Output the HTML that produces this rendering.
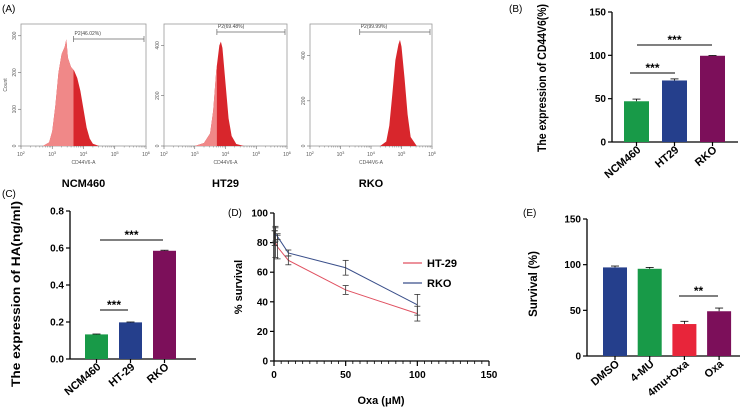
<!DOCTYPE html>
<html><head><meta charset="utf-8"><style>
body{margin:0;background:#fff}
svg{display:block;font-family:"Liberation Sans",Arial,sans-serif}
</style></head><body>
<svg id="fig" width="745" height="416" viewBox="0 0 745 416"></svg>
<script>
// ---- data ----
const histLogs=[2.7,2.9,3.0,3.1,3.2,3.3,3.4,3.45,3.5,3.6,3.7,3.8,3.9,4.0,4.1,4.2,4.3,4.5];
const hist1Counts=[0,10,40,110,200,250,270,290,240,215,205,185,150,100,50,20,6,0];
const hist2Logs=[3.0,3.3,3.5,3.6,3.7,3.8,3.85,3.9,4.0,4.1,4.2,4.35,4.6];
const hist2Counts=[0,12,50,140,300,400,415,390,250,110,40,8,0];
const hist3Logs=[4.3,4.5,4.6,4.7,4.8,4.9,4.95,5.0,5.1,5.2,5.3,5.5];
const hist3Counts=[0,20,90,230,380,450,470,440,300,140,40,0];
const flowGates=[3.68,3.72,3.63];
const flowPct=["P2(46.02%)","P2(69.48%)","P2(99.99%)"];
const flowNames=["NCM460","HT29","RKO"];
const bCats=["NCM460","HT29","RKO"];
const bVals=[47,71,99.5];
const bErr=[2.5,1.8,0.3];
const bTicks=[0,50,100,150];
const cCats=["NCM460","HT-29","RKO"];
const cVals=[0.133,0.198,0.585];
const cErr=[0.002,0.002,0.003];
const cTicks=[0,0.2,0.4,0.6,0.8];
const dX=[0.5,1,2.5,10,50,100];
const dHT=[83,80,77,68,48,32];
const dHTerr=[5,10,8,3,3,5];
const dRKO=[84,86,84,73,63,38];
const dRKOerr=[4,5,2,2,5,7];
const dXTicks=[0,50,100,150];
const dYTicks=[0,20,40,60,80,100];
const eCats=["DMSO","4-MU","4mu+Oxa","Oxa"];
const eVals=[97,95.5,35,49];
const eErr=[1.5,1.5,3,3.5];
const eTicks=[0,50,100,150];

const S=document.getElementById('fig');
const NS='http://www.w3.org/2000/svg';
function mk(tag,at,txt){const e=document.createElementNS(NS,tag);for(const k in at)e.setAttribute(k,at[k]);if(txt!==undefined)e.textContent=txt;S.appendChild(e);return e;}
function line(x1,y1,x2,y2,c,w,name){const e=mk('line',{x1,y1,x2,y2,stroke:c,'stroke-width':w});

return e;}
function text(x,y,t,at,name){const e=mk('text',Object.assign({x,y},at),t);

return e;}

// panel labels
text(2,12,"(A)",{'font-size':10},'panel-label-a');
text(509,12,"(B)",{'font-size':10},'panel-label-b');
text(2,197,"(C)",{'font-size':10},'panel-label-c');
text(228,216,"(D)",{'font-size':10},'panel-label-d');
text(523,216,"(E)",{'font-size':10},'panel-label-e');

// ---- flow histograms ----
const boxes=[{x0:21,x1:146,ymax:332,ticks:[0,100,200,300],logs:histLogs,counts:hist1Counts},
 {x0:164,x1:287,ymax:485,ticks:[0,200,400],logs:hist2Logs,counts:hist2Counts},
 {x0:310,x1:432,ymax:540,ticks:[0,200,400],logs:hist3Logs,counts:hist3Counts}];
const fy0=146,fy1=24;
boxes.forEach((b,i)=>{
 const xs=l=>b.x0+(l-2)/4*(b.x1-b.x0);
 const ys=v=>fy0-v/b.ymax*(fy0-fy1);
 const r=mk('rect',{x:b.x0,y:fy1,width:b.x1-b.x0,height:fy0-fy1,fill:'none',stroke:'#999','stroke-width':0.8});
 
 
 const g=xs(flowGates[i]);
 const pts=b.logs.map((l,k)=>xs(l)+','+ys(b.counts[k])).join(' ');
 const cid='clip'+i;
 const cp=mk('clipPath',{id:cid});
 const cr=document.createElementNS(NS,'rect');cr.setAttribute('x',b.x0);cr.setAttribute('y',0);cr.setAttribute('width',g-b.x0);cr.setAttribute('height',200);cp.appendChild(cr);
 const p1=mk('polygon',{points:pts,fill:'#d8262c'});
 
 
 const p2=mk('polygon',{points:pts,fill:'#f08888','clip-path':'url(#'+cid+')'});
 
 
 b.ticks.forEach(t=>{const y=ys(t);line(b.x0-3,y,b.x0,y,'#666',0.6,'y-tick');
  text(b.x0-5,y,String(t),{'font-size':5,fill:'#555','text-anchor':'middle',transform:`rotate(-90 ${b.x0-5} ${y})`},'y-tick-label');});
 for(let d=2;d<=6;d++){const x=xs(d);line(x,fy0,x,fy0+3,'#666',0.6,'x-tick');
  const t=text(x,fy0+10,'10',{'font-size':5,fill:'#555','text-anchor':'middle'},'x-tick-label');
  const ts=document.createElementNS(NS,'tspan');ts.setAttribute('dy',-2);ts.setAttribute('font-size',4);ts.textContent=d;t.appendChild(ts);
  if(d<6)for(let m=2;m<10;m++){const xm=xs(d+Math.log10(m));line(xm,fy0,xm,fy0+1.5,'#666',0.4,'minor-tick');}}
 text((b.x0+b.x1)/2,fy0+18,'CD44V6-A',{'font-size':5,fill:'#555','text-anchor':'middle'},'x-axis-title');
 if(i===0)text(7,85,'Count',{'font-size':5,fill:'#555','text-anchor':'middle',transform:'rotate(-90 7 85)'},'y-axis-title');
 const gy=i===0?39:32;
 line(g,gy,b.x1-2,gy,'#666',0.7,'gate-line');line(g,gy-3,g,gy+3,'#666',0.7,'gate-end');line(b.x1-2,gy-3,b.x1-2,gy+3,'#666',0.7,'gate-end');
 text(g+1,gy-4,flowPct[i],{'font-size':5,fill:'#444'},'gate-label');
 text((b.x0+b.x1)/2,187,flowNames[i],{'font-size':11,'font-weight':'bold','text-anchor':'middle'},'sample-name');
});

// ---- bar chart helper ----
function barChart(o){
 const ys=v=>o.yb-(v-0)/(o.tmax)*(o.yb-o.yt);
 line(o.ax,o.yt,o.ax,o.yb,'#000',1.3,'y-axis');
 line(o.ax,o.yb,o.xe,o.yb,'#000',1.3,'x-axis');
 o.ticks.forEach(t=>{const y=ys(t);line(o.ax-4,y,o.ax,y,'#000',1.2,'y-tick');
  text(o.ax-6,y+3.5,o.fmt(t),{'font-size':o.fs,'font-weight':'bold','text-anchor':'end'},'y-tick-label');});
 o.vals.forEach((v,i)=>{
  const cx=o.x0+i*o.step, x=cx-o.bw/2;
  const r=mk('rect',{x,y:ys(v),width:o.bw,height:o.yb-ys(v),fill:o.colors[i]});
  
  
  const ye=ys(v+o.err[i]);line(cx,ys(v),cx,ye,'#000',0.8,'error-bar');line(cx-4,ye,cx+4,ye,'#000',0.8,'error-cap');
  line(cx,o.yb,cx,o.yb+4,'#000',1.2,'x-tick');
  const ly=o.yb+9;
  text(cx+5,ly,o.cats[i],{'font-size':o.fs+1,'font-weight':'bold','text-anchor':'end',transform:`rotate(-40 ${cx+5} ${ly})`},'x-tick-label');
 });
 const at={'font-size':o.tfs,'font-weight':'bold','text-anchor':'middle',transform:`rotate(-90 ${o.lx} ${o.ly})`};
 if(o.tl){at.textLength=o.tl;at.lengthAdjust='spacingAndGlyphs';}
 text(o.lx,o.ly,o.title,at,'y-axis-title');
 return ys;
}
function sig(x1,x2,y,t,name){line(x1,y,x2,y,'#000',1,name+'-line');text((x1+x2)/2,y-1,t,{'font-size':12,'font-weight':'bold','text-anchor':'middle'},name+'-stars');}

// B
barChart({ax:612,yt:12,yb:142,xe:738,tmax:150,ticks:bTicks,fmt:t=>String(t),vals:bVals,err:bErr,cats:bCats,x0:636.5,step:38,bw:25,
 colors:['#189a48','#253f8c','#7c0f5a'],fs:10,tfs:11.5,lx:546,ly:78,tl:148,title:'The expression of CD44V6(%)'});
sig(637,712,45,'***','sig-b-top');sig(630,675,73,'***','sig-b-low');
// C
barChart({ax:70,yt:211,yb:359,xe:196,tmax:0.8,ticks:cTicks,fmt:t=>t.toFixed(1),vals:cVals,err:cErr,cats:cCats,x0:96.5,step:34,bw:23,
 colors:['#189a48','#253f8c','#7c0f5a'],fs:10,tfs:11.5,lx:20,ly:294,tl:186,title:'The expression of HA(ng/ml)'});
sig(100,163,240,'***','sig-c-top');sig(100,128,310,'***','sig-c-low');
// E
barChart({ax:587,yt:219,yb:356,xe:740,tmax:150,ticks:eTicks,fmt:t=>String(t),vals:eVals,err:eErr,cats:eCats,x0:615,step:34.7,bw:24,
 colors:['#253f8c','#189a48','#e8253a','#7c0f5a'],fs:10,tfs:11.5,lx:537,ly:284,title:'Survival (%)'});
sig(679,718,296,'**','sig-e');

// D line chart
const dxs=v=>274+v/150*(489-274), dys=v=>361-v/100*(361-213);
line(274,213,274,361,'#000',1.3,'y-axis');line(274,361,489,361,'#000',1.3,'x-axis');
dYTicks.forEach(t=>{line(270,dys(t),274,dys(t),'#000',1.2,'y-tick');text(268,dys(t)+3.5,String(t),{'font-size':10,'font-weight':'bold','text-anchor':'end'},'y-tick-label');});
dXTicks.forEach(t=>{line(dxs(t),361,dxs(t),366,'#000',1.2,'x-tick');text(dxs(t),378,String(t),{'font-size':10,'font-weight':'bold','text-anchor':'middle'},'x-tick-label');});
for(let m=5;m<150;m+=5)if(m%50)line(dxs(m),361,dxs(m),364,'#000',0.8,'x-minor-tick');
text(381,404,'Oxa (μM)',{'font-size':11,'font-weight':'bold','text-anchor':'middle'},'x-axis-title');
text(242,287,'% survival',{'font-size':11,'font-weight':'bold','text-anchor':'middle',transform:'rotate(-90 242 287)'},'y-axis-title');
function series(vals,errs,col,name){
 const pl=mk('polyline',{points:dX.map((x,i)=>dxs(x)+','+dys(vals[i])).join(' '),fill:'none',stroke:col,'stroke-width':1});
 
 
 dX.forEach((x,i)=>{const cx=dxs(x),a=dys(vals[i]+errs[i]),b=dys(vals[i]-errs[i]);
  line(cx,a,cx,b,'#333',0.8,name+'-error');line(cx-3,a,cx+3,a,'#333',0.8,name+'-cap');line(cx-3,b,cx+3,b,'#333',0.8,name+'-cap');});
}
series(dHT,dHTerr,'#e05060','ht29');series(dRKO,dRKOerr,'#3a4f8a','rko');
line(403,263,422,263,'#e05060',1.2,'legend-swatch-ht29');text(427,267,'HT-29',{'font-size':11,'font-weight':'bold'},'legend-label-ht29');
line(403,283,422,283,'#3a4f8a',1.2,'legend-swatch-rko');text(427,287,'RKO',{'font-size':11,'font-weight':'bold'},'legend-label-rko');
</script>
</body></html>
